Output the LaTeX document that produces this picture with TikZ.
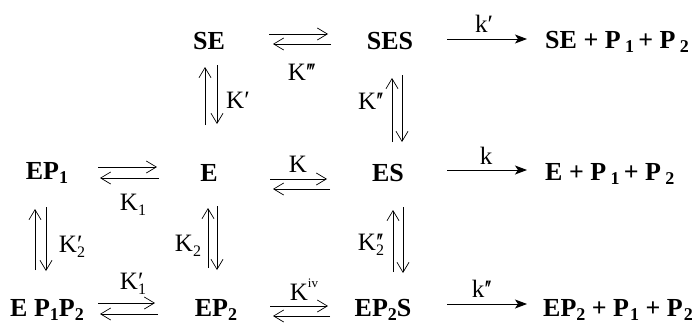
\documentclass[tikz,border=0pt]{standalone}
\usepackage{fontspec}
\setmainfont{Liberation Serif}
\usetikzlibrary{arrows.meta}
\newcommand\bsub[1]{\raisebox{-0.35ex}{\fontsize{18}{18}\selectfont\bfseries #1}}
\newcommand\lsub[1]{\raisebox{-0.45ex}{\fontsize{16}{16}\selectfont #1}}
\newcommand\lsup[1]{\raisebox{1.15ex}{\fontsize{13}{13}\selectfont #1}}
\newcommand\pr{′}
\newcommand\prr{′\kern-0.12em′}
\newcommand\prrr{′\kern-0.12em′\kern-0.12em′}
\newcommand\stk[2]{\rlap{\smash{#1}}\smash{#2}}
\begin{document}
\begin{tikzpicture}[x=1pt,y=-1pt,
  chem/.style={font=\fontsize{26}{30}\selectfont\bfseries, inner sep=0pt},
  lab/.style={font=\fontsize{25}{30}\selectfont, inner sep=0pt},
  eqarr/.style={line width=1pt, -{Straight Barb[length=10pt,width=12pt,line width=0.7pt]}},
  prodarr/.style={line width=1pt, -{Stealth[length=12pt,width=9pt,inset=3pt]}}]
\useasboundingbox (0,0) rectangle (699,332);
% species
\node[chem] (SE) at (209,41) {SE};
\node[chem] (SES) at (390,41) {SES};
\node[chem, anchor=west] (P1) at (545,42) {SE + P\,\bsub{1}\,+ P\,\bsub{2}};
\node[chem] (EP1) at (47,173) {EP\bsub{1}};
\node[chem] (E) at (209,173) {E};
\node[chem] (ES) at (388,173) {ES};
\node[chem, anchor=west] (P2) at (545,174) {E + P\,\bsub{1}\,+ P\,\bsub{2}};
\node[chem] (EPP) at (47,310) {E P\bsub{1}P\bsub{2}};
\node[chem] (EP2) at (216,310) {EP\bsub{2}};
\node[chem] (EP2S) at (383,310) {EP\bsub{2}S};
\node[chem, anchor=west] (P3) at (543,310) {EP\bsub{2} + P\kern1pt\bsub{1} + P\kern1pt\bsub{2}};
% horizontal equilibria
\coordinate (a1) at (269,34); \coordinate (a2) at (328,34);
\coordinate (a3) at (331,44); \coordinate (a4) at (273,44);
\draw[eqarr] (a1) -- (a2); \draw[eqarr] (a3) -- (a4);
\node[lab] (Kiii) at (302,72) {K\prrr};
\coordinate (b1) at (98,167); \coordinate (b2) at (157,167);
\coordinate (b3) at (159,178); \coordinate (b4) at (100,178);
\draw[eqarr] (b1) -- (b2); \draw[eqarr] (b3) -- (b4);
\node[lab] (K1) at (133,205) {K\lsub{1}};
\coordinate (c1) at (270,179); \coordinate (c2) at (327,179);
\coordinate (c3) at (330,189); \coordinate (c4) at (273,189);
\draw[eqarr] (c1) -- (c2); \draw[eqarr] (c3) -- (c4);
\node[lab] (K) at (298,164) {K};
\coordinate (d1) at (98,303); \coordinate (d2) at (155,303);
\coordinate (d3) at (158,314); \coordinate (d4) at (100,314);
\draw[eqarr] (d1) -- (d2); \draw[eqarr] (d3) -- (d4);
\node[lab] (K1p) at (133,281) {K\stk{\pr}{\lsub{1}}};
\coordinate (e1) at (270,306); \coordinate (e2) at (328,306);
\coordinate (e3) at (330,316); \coordinate (e4) at (273,316);
\draw[eqarr] (e1) -- (e2); \draw[eqarr] (e3) -- (e4);
\node[lab] (Kiv) at (304,290) {K\lsup{iv}};
% vertical equilibria
\coordinate (f1) at (205,125); \coordinate (f2) at (205,67);
\coordinate (f3) at (217,65); \coordinate (f4) at (217,124);
\draw[eqarr] (f1) -- (f2); \draw[eqarr] (f3) -- (f4);
\node[lab] (Kp) at (238,100) {K\pr};
\coordinate (g1) at (392,142); \coordinate (g2) at (392,78);
\coordinate (g3) at (402,75); \coordinate (g4) at (402,142);
\draw[eqarr] (g1) -- (g2); \draw[eqarr] (g3) -- (g4);
\node[lab] (Kpp) at (371,101) {K\prr};
\coordinate (h1) at (35,270); \coordinate (h2) at (35,209);
\coordinate (h3) at (46,207); \coordinate (h4) at (46,271);
\draw[eqarr] (h1) -- (h2); \draw[eqarr] (h3) -- (h4);
\node[lab] (K2p) at (72,244) {K\stk{\pr}{\lsub{2}}};
\coordinate (i1) at (208,268); \coordinate (i2) at (208,208);
\coordinate (i3) at (217,206); \coordinate (i4) at (217,270);
\draw[eqarr] (i1) -- (i2); \draw[eqarr] (i3) -- (i4);
\node[lab] (K2) at (188,246) {K\lsub{2}};
\coordinate (j1) at (393,272); \coordinate (j2) at (393,210);
\coordinate (j3) at (403,207); \coordinate (j4) at (403,273);
\draw[eqarr] (j1) -- (j2); \draw[eqarr] (j3) -- (j4);
\node[lab] (K2pp) at (371,242) {K\stk{\prr}{\lsub{2}}};
% product arrows
\coordinate (k1) at (447,39); \coordinate (k2) at (527,39);
\draw[prodarr] (k1) -- (k2);
\node[lab] (kp) at (484,24) {k\pr};
\coordinate (l1) at (447,170); \coordinate (l2) at (527,170);
\draw[prodarr] (l1) -- (l2);
\node[lab] (k) at (486,156) {k};
\coordinate (m1) at (447,304); \coordinate (m2) at (527,304);
\draw[prodarr] (m1) -- (m2);
\node[lab] (kpp) at (482,289) {k\prr};
\end{tikzpicture}
\end{document}
